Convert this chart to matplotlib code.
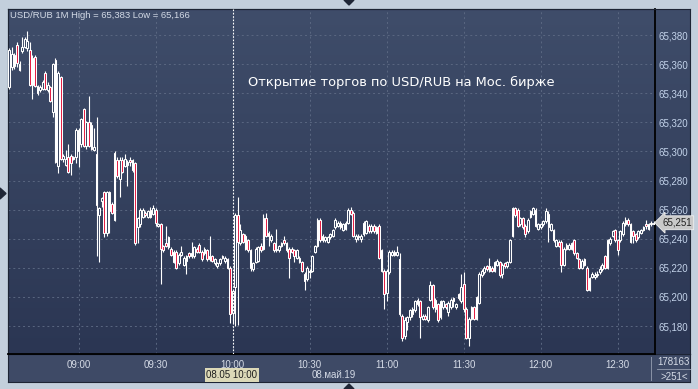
import numpy as np
import matplotlib.pyplot as plt
from matplotlib.colors import LinearSegmentedColormap
from matplotlib.ticker import FuncFormatter
from matplotlib.patches import Polygon
from matplotlib.lines import Line2D

plt.rcParams['font.family'] = ['Liberation Sans', 'DejaVu Sans']

W, H = 698, 389

# USD/RUB 1-minute candles, 08:33 .. 12:44
opens = [
    65.344, 65.358, 65.366, 65.373, 65.360, 65.369, 65.372, 65.371, 65.370, 65.346,
    65.365, 65.345, 65.342, 65.343, 65.354, 65.342, 65.344, 65.327, 65.363, 65.290,
    65.351, 65.295, 65.291, 65.296, 65.297, 65.295, 65.296, 65.300, 65.305, 65.329,
    65.304, 65.320, 65.318, 65.301, 65.298, 65.256, 65.266, 65.272, 65.244, 65.272,
    65.264, 65.253, 65.294, 65.281, 65.294, 65.290, 65.291, 65.294, 65.294, 65.292,
    65.248, 65.250, 65.255, 65.258, 65.255, 65.260, 65.257, 65.260, 65.249, 65.250,
    65.235, 65.237, 65.234, 65.233, 65.224, 65.231, 65.223, 65.229, 65.222, 65.225,
    65.230, 65.228, 65.228, 65.233, 65.236, 65.231, 65.230, 65.232, 65.226, 65.228,
    65.223, 65.221, 65.223, 65.228, 65.225, 65.226, 65.220, 65.189, 65.207, 65.256,
    65.237, 65.243, 65.242, 65.239, 65.232, 65.219, 65.224, 65.225, 65.235, 65.233,
    65.254, 65.242, 65.239, 65.237, 65.232, 65.232, 65.235, 65.239, 65.237, 65.233,
    65.233, 65.232, 65.227, 65.224, 65.224, 65.216, 65.212, 65.217, 65.218, 65.231,
    65.235, 65.253, 65.242, 65.239, 65.238, 65.241, 65.242, 65.248, 65.249, 65.251,
    65.246, 65.247, 65.251, 65.260, 65.258, 65.240, 65.242, 65.240, 65.243, 65.244,
    65.249, 65.245, 65.249, 65.248, 65.249, 65.232, 65.218, 65.203, 65.217, 65.229,
    65.231, 65.229, 65.226, 65.187, 65.173, 65.183, 65.186, 65.188, 65.191, 65.198,
    65.197, 65.185, 65.187, 65.184, 65.198, 65.208, 65.192, 65.195, 65.186, 65.193,
    65.195, 65.190, 65.193, 65.199, 65.193, 65.202, 65.197, 65.209, 65.192, 65.172,
    65.185, 65.193, 65.185, 65.196, 65.215, 65.217, 65.221, 65.218, 65.220, 65.218,
    65.222, 65.224, 65.216, 65.223, 65.221, 65.224, 65.242, 65.261, 65.260, 65.250,
    65.254, 65.249, 65.245, 65.255, 65.257, 65.260, 65.247, 65.248, 65.250, 65.252,
    65.257, 65.246, 65.246, 65.235, 65.238, 65.238, 65.222, 65.236, 65.233, 65.233,
    65.239, 65.230, 65.226, 65.220, 65.226, 65.220, 65.205, 65.214, 65.214, 65.215,
    65.217, 65.219, 65.228, 65.220, 65.237, 65.242, 65.246, 65.239, 65.239, 65.243,
    65.250, 65.253, 65.250, 65.245, 65.243, 65.241, 65.244, 65.246, 65.250, 65.247,
    65.250, 65.250,
]
highs = [
    65.371, 65.372, 65.368, 65.375, 65.362, 65.379, 65.379, 65.383, 65.375, 65.366,
    65.366, 65.346, 65.346, 65.349, 65.355, 65.348, 65.345, 65.361, 65.364, 65.355,
    65.352, 65.298, 65.301, 65.305, 65.298, 65.297, 65.316, 65.316, 65.323, 65.330,
    65.321, 65.338, 65.320, 65.316, 65.324, 65.262, 65.269, 65.273, 65.273, 65.273,
    65.265, 65.300, 65.296, 65.296, 65.296, 65.298, 65.294, 65.296, 65.295, 65.293,
    65.255, 65.261, 65.261, 65.259, 65.260, 65.262, 65.263, 65.261, 65.251, 65.251,
    65.236, 65.249, 65.242, 65.234, 65.232, 65.232, 65.230, 65.235, 65.228, 65.229,
    65.231, 65.238, 65.235, 65.234, 65.237, 65.232, 65.234, 65.233, 65.242, 65.229,
    65.227, 65.224, 65.227, 65.229, 65.228, 65.227, 65.221, 65.205, 65.258, 65.269,
    65.250, 65.244, 65.243, 65.240, 65.233, 65.224, 65.234, 65.235, 65.237, 65.257,
    65.258, 65.245, 65.243, 65.238, 65.247, 65.236, 65.238, 65.242, 65.238, 65.234,
    65.234, 65.233, 65.233, 65.228, 65.225, 65.217, 65.221, 65.219, 65.229, 65.236,
    65.254, 65.254, 65.243, 65.242, 65.242, 65.244, 65.247, 65.254, 65.252, 65.252,
    65.251, 65.252, 65.261, 65.262, 65.259, 65.243, 65.243, 65.243, 65.252, 65.253,
    65.250, 65.250, 65.250, 65.249, 65.250, 65.233, 65.219, 65.219, 65.232, 65.232,
    65.232, 65.235, 65.230, 65.188, 65.186, 65.187, 65.192, 65.193, 65.198, 65.199,
    65.198, 65.188, 65.188, 65.194, 65.211, 65.209, 65.199, 65.196, 65.198, 65.198,
    65.196, 65.197, 65.199, 65.200, 65.196, 65.203, 65.216, 65.217, 65.193, 65.186,
    65.194, 65.194, 65.201, 65.217, 65.219, 65.221, 65.222, 65.227, 65.221, 65.225,
    65.226, 65.225, 65.223, 65.224, 65.225, 65.240, 65.262, 65.262, 65.261, 65.255,
    65.255, 65.250, 65.254, 65.260, 65.262, 65.261, 65.251, 65.251, 65.253, 65.261,
    65.259, 65.251, 65.247, 65.240, 65.239, 65.239, 65.234, 65.237, 65.237, 65.238,
    65.240, 65.231, 65.227, 65.226, 65.227, 65.221, 65.214, 65.217, 65.217, 65.218,
    65.221, 65.223, 65.229, 65.240, 65.241, 65.246, 65.247, 65.240, 65.246, 65.252,
    65.255, 65.254, 65.251, 65.246, 65.244, 65.246, 65.247, 65.249, 65.253, 65.251,
    65.252, 65.252,
]
lows = [
    65.343, 65.356, 65.357, 65.358, 65.355, 65.368, 65.371, 65.369, 65.345, 65.336,
    65.344, 65.339, 65.341, 65.342, 65.342, 65.341, 65.334, 65.324, 65.292, 65.285,
    65.294, 65.293, 65.290, 65.285, 65.284, 65.294, 65.292, 65.289, 65.303, 65.303,
    65.302, 65.303, 65.301, 65.300, 65.228, 65.224, 65.262, 65.241, 65.242, 65.244,
    65.257, 65.252, 65.282, 65.269, 65.285, 65.289, 65.276, 65.290, 65.286, 65.236,
    65.237, 65.248, 65.254, 65.255, 65.254, 65.254, 65.256, 65.249, 65.248, 65.209,
    65.231, 65.234, 65.233, 65.228, 65.223, 65.219, 65.222, 65.228, 65.221, 65.216,
    65.227, 65.227, 65.227, 65.230, 65.230, 65.225, 65.229, 65.225, 65.225, 65.224,
    65.222, 65.220, 65.222, 65.226, 65.223, 65.219, 65.182, 65.182, 65.180, 65.181,
    65.236, 65.237, 65.232, 65.231, 65.218, 65.218, 65.223, 65.224, 65.231, 65.232,
    65.241, 65.235, 65.238, 65.231, 65.231, 65.231, 65.234, 65.236, 65.231, 65.213,
    65.230, 65.224, 65.226, 65.223, 65.217, 65.205, 65.211, 65.213, 65.217, 65.230,
    65.234, 65.238, 65.238, 65.238, 65.237, 65.240, 65.241, 65.247, 65.248, 65.247,
    65.245, 65.246, 65.250, 65.256, 65.241, 65.238, 65.239, 65.238, 65.242, 65.243,
    65.244, 65.244, 65.244, 65.243, 65.226, 65.217, 65.192, 65.197, 65.216, 65.228,
    65.228, 65.228, 65.187, 65.170, 65.171, 65.177, 65.184, 65.186, 65.190, 65.194,
    65.172, 65.184, 65.184, 65.183, 65.197, 65.192, 65.190, 65.183, 65.185, 65.192,
    65.192, 65.187, 65.192, 65.193, 65.192, 65.198, 65.196, 65.190, 65.171, 65.166,
    65.184, 65.184, 65.184, 65.195, 65.214, 65.216, 65.218, 65.217, 65.217, 65.217,
    65.221, 65.214, 65.213, 65.220, 65.220, 65.223, 65.241, 65.255, 65.248, 65.249,
    65.247, 65.241, 65.244, 65.254, 65.256, 65.248, 65.246, 65.247, 65.249, 65.251,
    65.238, 65.245, 65.238, 65.234, 65.234, 65.217, 65.221, 65.232, 65.232, 65.232,
    65.229, 65.226, 65.219, 65.219, 65.221, 65.204, 65.204, 65.213, 65.212, 65.214,
    65.216, 65.218, 65.219, 65.219, 65.236, 65.241, 65.238, 65.229, 65.238, 65.242,
    65.249, 65.249, 65.237, 65.237, 65.238, 65.240, 65.243, 65.245, 65.247, 65.246,
    65.249, 65.250,
]
closes = [
    65.370, 65.367, 65.359, 65.361, 65.356, 65.372, 65.377, 65.376, 65.346, 65.364,
    65.345, 65.340, 65.344, 65.348, 65.343, 65.346, 65.335, 65.360, 65.293, 65.354,
    65.295, 65.297, 65.295, 65.286, 65.292, 65.296, 65.315, 65.315, 65.322, 65.304,
    65.320, 65.304, 65.302, 65.303, 65.263, 65.261, 65.268, 65.244, 65.272, 65.259,
    65.258, 65.299, 65.283, 65.294, 65.286, 65.295, 65.293, 65.293, 65.287, 65.237,
    65.254, 65.260, 65.260, 65.256, 65.259, 65.255, 65.261, 65.251, 65.250, 65.233,
    65.232, 65.235, 65.241, 65.229, 65.231, 65.220, 65.229, 65.231, 65.227, 65.228,
    65.228, 65.230, 65.234, 65.231, 65.231, 65.226, 65.233, 65.226, 65.228, 65.225,
    65.226, 65.223, 65.226, 65.227, 65.227, 65.220, 65.188, 65.204, 65.256, 65.238,
    65.246, 65.238, 65.233, 65.232, 65.220, 65.223, 65.233, 65.234, 65.232, 65.254,
    65.242, 65.244, 65.242, 65.232, 65.233, 65.235, 65.237, 65.237, 65.232, 65.227,
    65.231, 65.228, 65.232, 65.227, 65.218, 65.211, 65.220, 65.218, 65.228, 65.235,
    65.253, 65.239, 65.239, 65.241, 65.241, 65.243, 65.246, 65.253, 65.251, 65.248,
    65.250, 65.251, 65.260, 65.257, 65.242, 65.242, 65.241, 65.242, 65.251, 65.252,
    65.245, 65.249, 65.245, 65.244, 65.227, 65.218, 65.202, 65.218, 65.231, 65.231,
    65.229, 65.231, 65.188, 65.172, 65.184, 65.186, 65.191, 65.192, 65.197, 65.195,
    65.186, 65.187, 65.185, 65.193, 65.208, 65.193, 65.198, 65.184, 65.197, 65.197,
    65.193, 65.196, 65.198, 65.197, 65.195, 65.199, 65.207, 65.192, 65.172, 65.185,
    65.193, 65.185, 65.200, 65.216, 65.218, 65.220, 65.219, 65.221, 65.218, 65.224,
    65.225, 65.215, 65.222, 65.221, 65.224, 65.239, 65.261, 65.256, 65.249, 65.254,
    65.248, 65.243, 65.253, 65.259, 65.261, 65.249, 65.250, 65.250, 65.252, 65.259,
    65.248, 65.250, 65.239, 65.239, 65.235, 65.222, 65.233, 65.233, 65.236, 65.237,
    65.230, 65.227, 65.220, 65.225, 65.222, 65.205, 65.213, 65.216, 65.215, 65.216,
    65.219, 65.222, 65.220, 65.239, 65.240, 65.245, 65.239, 65.232, 65.245, 65.251,
    65.253, 65.250, 65.238, 65.242, 65.239, 65.245, 65.246, 65.248, 65.249, 65.250,
    65.251, 65.251,
]

time_ticks = [27, 57, 87, 117, 147, 177, 207, 237]
time_labels = ['09:00', '09:30', '10:00', '10:30', '11:00', '11:30', '12:00', '12:30']
price_ticks = [65.18, 65.20, 65.22, 65.24, 65.26, 65.28, 65.30, 65.32, 65.34, 65.36, 65.38]
cursor_idx = 87
title = 'USD/RUB 1M High = 65,383 Low = 65,166'
note = 'Открытие торгов по USD/RUB на Мос. бирже'


def frac(x0, y0, x1, y1):
    # pixel box (top-left origin) -> figure fraction rect
    return [x0 / W, 1 - y1 / H, (x1 - x0) / W, (y1 - y0) / H]


def fx(x):
    return x / W


def fy(y):
    return 1 - y / H


fig = plt.figure(figsize=(W / 100, H / 100), dpi=100)
fig.patch.set_facecolor('#c3cfdc')

# time strip under the chart
tax = fig.add_axes(frac(8, 354, 690, 382))
tax.set_facecolor('#3e4a66')
tax.set_xticks([])
tax.set_yticks([])
for s in tax.spines.values():
    s.set_color('#1d2434')
    s.set_linewidth(0.8)

# gradient behind plot + price scale
bg = fig.add_axes(frac(8, 9, 690, 354))
cmap = LinearSegmentedColormap.from_list('bg', ['#3f4d6a', '#2b3653'])
bg.imshow(np.linspace(0, 1, 256).reshape(-1, 1), cmap=cmap, aspect='auto',
          extent=[0, 1, 0, 1])
bg.set_xticks([])
bg.set_yticks([])
for s in bg.spines.values():
    s.set_color('#1d2434')
    s.set_linewidth(0.8)

ax = fig.add_axes(frac(8, 9, 655, 354))
ax.set_facecolor('none')

n = len(closes)
idx = np.arange(n)
o = np.array(opens)
c = np.array(closes)
up = c >= o

# wicks then bodies
ax.vlines(idx, lows, highs, color='white', linewidth=0.8, zorder=3)
body_lo = np.minimum(o, c)
body_h = np.maximum(np.abs(c - o), 0.0006)
faces = np.where(up, '#34405c', '#e3173e')
ax.bar(idx, body_h, bottom=body_lo, width=0.68, color=faces,
       edgecolor='white', linewidth=0.75, zorder=4)

ax.axvline(cursor_idx, color='white', linewidth=0.8, linestyle=(0, (1.5, 1.5)), zorder=5)

ax.set_xlim(-0.5, n - 0.5)
ax.set_ylim(65.1608, 65.3979)

ax.grid(True, color='#5a6781', linestyle=(0, (2, 3)), linewidth=0.7)
ax.set_axisbelow(True)

ax.set_xticks(time_ticks)
ax.set_xticklabels(time_labels)
ax.tick_params(axis='x', length=0, pad=4, labelsize=7, labelcolor='#d5dbe6')

ax.yaxis.tick_right()
ax.set_yticks(price_ticks)
ax.yaxis.set_major_formatter(FuncFormatter(lambda v, p: f'{v:.3f}'.replace('.', ',')))
ax.tick_params(axis='y', length=0, pad=2.5, labelsize=7, labelcolor='#c3d3ea')

for k in ['top', 'left']:
    ax.spines[k].set_color('#1d2434')
    ax.spines[k].set_linewidth(0.8)
for k in ['right', 'bottom']:
    ax.spines[k].set_color('black')
    ax.spines[k].set_linewidth(1.3)

ax.text(0.003, 0.981, title, transform=ax.transAxes, ha='left', va='center',
        fontsize=6.8, color='#d3dae6', zorder=6)
ax.text(0.371, 0.788, note, transform=ax.transAxes, ha='left', va='center',
        fontsize=9.4, color='white', family=['DejaVu Sans'], zorder=6)

# last price marker
last = closes[-1]
ax.text(1.011, last, f'{last:.3f}'.replace('.', ','), transform=ax.get_yaxis_transform(),
        ha='left', va='center', fontsize=7, color='#202020', zorder=7,
        bbox=dict(boxstyle='larrow,pad=0.2', fc='#c9c9c9', ec='#f0f0f0', lw=0.6))

# bottom-right info box
fig.text(fx(673), fy(362), '178163', ha='center', va='center', fontsize=7, color='#d5dbe6')
fig.text(fx(674), fy(377), '>251<', ha='center', va='center', fontsize=7, color='#d5dbe6')
fig.add_artist(Line2D([fx(657), fx(690)], [fy(369), fy(369)], color='#8a93a6', lw=0.7))
fig.add_artist(Line2D([fx(651), fx(651)], [fy(357), fy(380)], color='#8a93a6', lw=0.7))

# cursor date box and date
fig.text(fx(232), fy(375), '08.05 10:00', ha='center', va='center', fontsize=7,
         color='#1e1e1e', bbox=dict(boxstyle='square,pad=0.2', fc='#dcd9b8', ec='none'))
fig.text(fx(334), fy(374.5), '08.май.19', ha='center', va='center', fontsize=7, color='#d5dbe6')

# small navigation triangles on the frame
tri = '#1f2636'
fig.add_artist(Polygon([[fx(344), fy(0)], [fx(354), fy(0)], [fx(349), fy(5)]],
                       closed=True, color=tri, transform=fig.transFigure))
fig.add_artist(Polygon([[fx(344), fy(389)], [fx(354), fy(389)], [fx(349), fy(384)]],
                       closed=True, color=tri, transform=fig.transFigure))
fig.add_artist(Polygon([[fx(0), fy(188)], [fx(0), fy(199)], [fx(6), fy(193.5)]],
                       closed=True, color=tri, transform=fig.transFigure))

fig.savefig('out.png', dpi=100, facecolor=fig.get_facecolor())
